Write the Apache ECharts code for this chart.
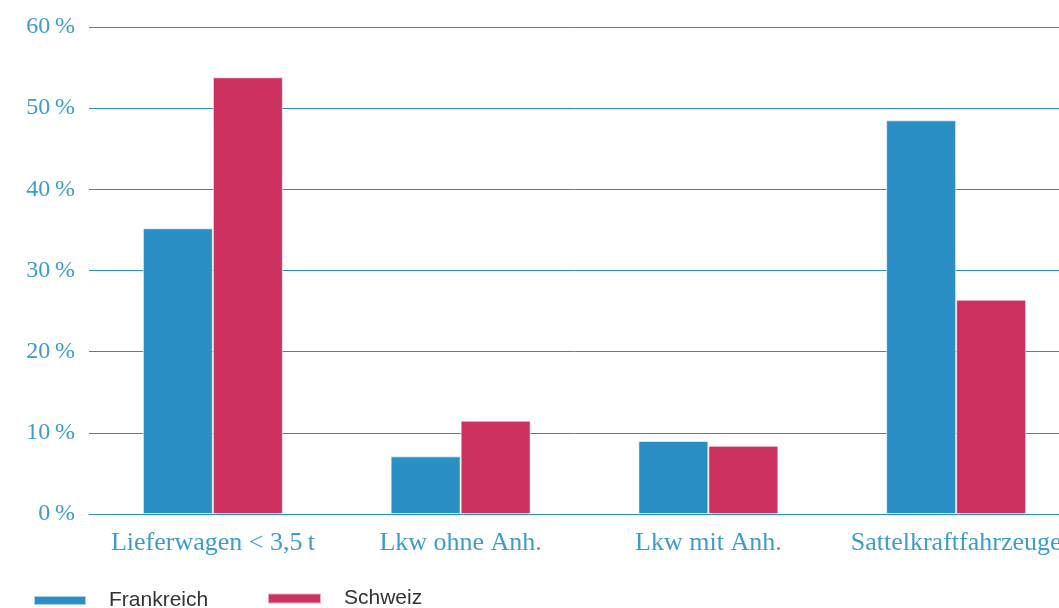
<!DOCTYPE html>
<html>
<head>
<meta charset="utf-8">
<script src="https://cdn.jsdelivr.net/npm/echarts@6/dist/echarts.min.js"></script>
<style>
  html, body { margin: 0; padding: 0; background: #fff; }
  #chart { width: 1059px; height: 608px; }
</style>
</head>
<body>
<div id="chart"></div>
<script>
// Daten
const categories = ["Lieferwagen < 3,5\u2009t", "Lkw ohne Anh.", "Lkw mit Anh.", "Sattelkraftfahrzeuge"];
const frankreich = [35.2, 7.1, 9.0, 48.5];
const schweiz = [53.8, 11.5, 8.4, 26.4];
const yTicks = [0, 10, 20, 30, 40, 50, 60];

const blue = "#2a8fc4";
const red = "#cc3160";
const labelBlue = "#3d9cce";

const chart = echarts.init(document.getElementById("chart"));

const barStyle = color => ({
  color: color,
  borderColor: "rgba(255,255,255,0.6)",
  borderWidth: 1
});

const legendText = { color: "#333", fontSize: 21, fontFamily: "Liberation Sans", padding: [0, 0, 0, 18] };

chart.setOption({
  animation: false,
  grid: { left: 89, top: 27, bottom: 94, right: -21, outerBoundsMode: "none" },
  legend: [
    {
      left: 33, top: 590, padding: 0,
      itemWidth: 52, itemHeight: 9,
      icon: "rect",
      data: ["Frankreich"],
      textStyle: legendText
    },
    {
      left: 267, top: 588, padding: 0,
      itemWidth: 53, itemHeight: 10,
      icon: "rect",
      data: ["Schweiz"],
      textStyle: legendText
    }
  ],
  xAxis: {
    type: "category",
    data: categories,
    axisTick: { show: false },
    axisLine: { lineStyle: { color: blue, width: 1 } },
    axisLabel: {
      color: labelBlue,
      fontSize: 26,
      fontFamily: "Liberation Serif",
      margin: 16,
      interval: 0
    }
  },
  yAxis: {
    type: "value",
    min: yTicks[0],
    max: yTicks[yTicks.length - 1],
    interval: 10,
    axisLine: { show: false },
    axisTick: { show: false },
    splitLine: { lineStyle: { color: blue, width: 1 } },
    axisLabel: {
      color: labelBlue,
      fontSize: 24,
      fontFamily: "Liberation Serif",
      margin: 14,
      formatter: v => v + "\u2009%"
    }
  },
  series: [
    {
      name: "Frankreich",
      type: "bar",
      data: frankreich,
      itemStyle: barStyle(blue),
      barGap: "0%",
      barCategoryGap: "43.5%",
      z: 3
    },
    {
      name: "Schweiz",
      type: "bar",
      data: schweiz,
      itemStyle: barStyle(red),
      z: 3
    }
  ]
});
</script>
</body>
</html>
